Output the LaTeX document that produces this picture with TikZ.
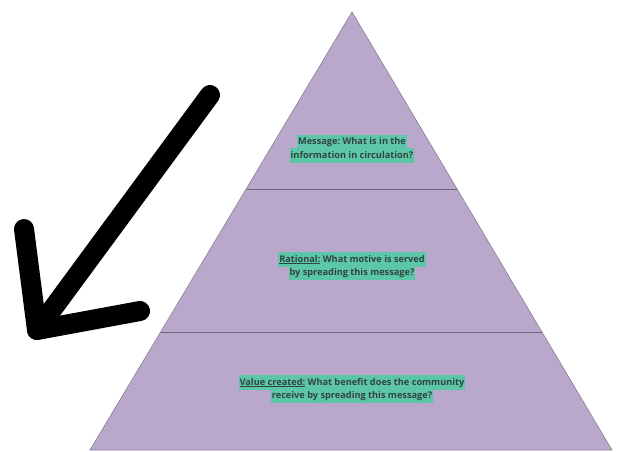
\documentclass[tikz,border=0pt]{standalone}
\usepackage{fontspec}
\setmainfont{Open Sans}
\definecolor{pyr}{HTML}{B9A8CB}
\definecolor{pyredge}{HTML}{8A7F94}
\definecolor{hlc}{HTML}{5CC6A8}
\definecolor{txt}{HTML}{33443E}
\newcommand{\hlbox}[1]{{\setlength{\fboxsep}{0.8pt}\colorbox{hlc}{\strut #1}}}
\tikzset{
  level/.style={fill=pyr, draw=pyredge, line width=0.6pt},
  divider/.style={draw=pyredge!80!black, line width=0.7pt},
  label/.style={font=\bfseries\fontsize{9.2}{13}\selectfont, text=txt, align=center, inner sep=0pt},
  bigarrow/.style={line width=20pt, line cap=round, line join=round, black}
}
\begin{document}
\begin{tikzpicture}[x=1pt,y=-1pt]
\useasboundingbox[fill=white] (0,0) rectangle (617,451);
\coordinate (apex) at (352,12);
\coordinate (bl) at (90,450);
\coordinate (br) at (612,450);
\coordinate (d1l) at (247,189);
\coordinate (d1r) at (457,189);
\coordinate (d2l) at (161,332);
\coordinate (d2r) at (542,332);
\fill[level] (apex) -- (br) -- (bl) -- cycle;
\draw[divider] (d1l) -- (d1r);
\draw[divider] (d2l) -- (d2r);
\node[label] (msg) at (352,149) {\hlbox{\underline{Message:} What is in the}\\[-2.5pt]\hlbox{information in circulation?}};
\node[label] (rat) at (352,266) {\hlbox{\underline{Rational:} What motive is served}\\[-2.5pt]\hlbox{by spreading this message?}};
\node[label] (val) at (352,389) {\hlbox{\underline{Value created:} What benefit does the community}\\[-2.5pt]\hlbox{receive by spreading this message?}};
\coordinate (shaft) at (210,95);
\coordinate (tip) at (37,330);
\coordinate (arml) at (24,229);
\coordinate (armr) at (140,311);
\draw[bigarrow] (shaft) -- (tip);
\draw[bigarrow] (arml) -- (tip) -- (armr);
\end{tikzpicture}
\end{document}
